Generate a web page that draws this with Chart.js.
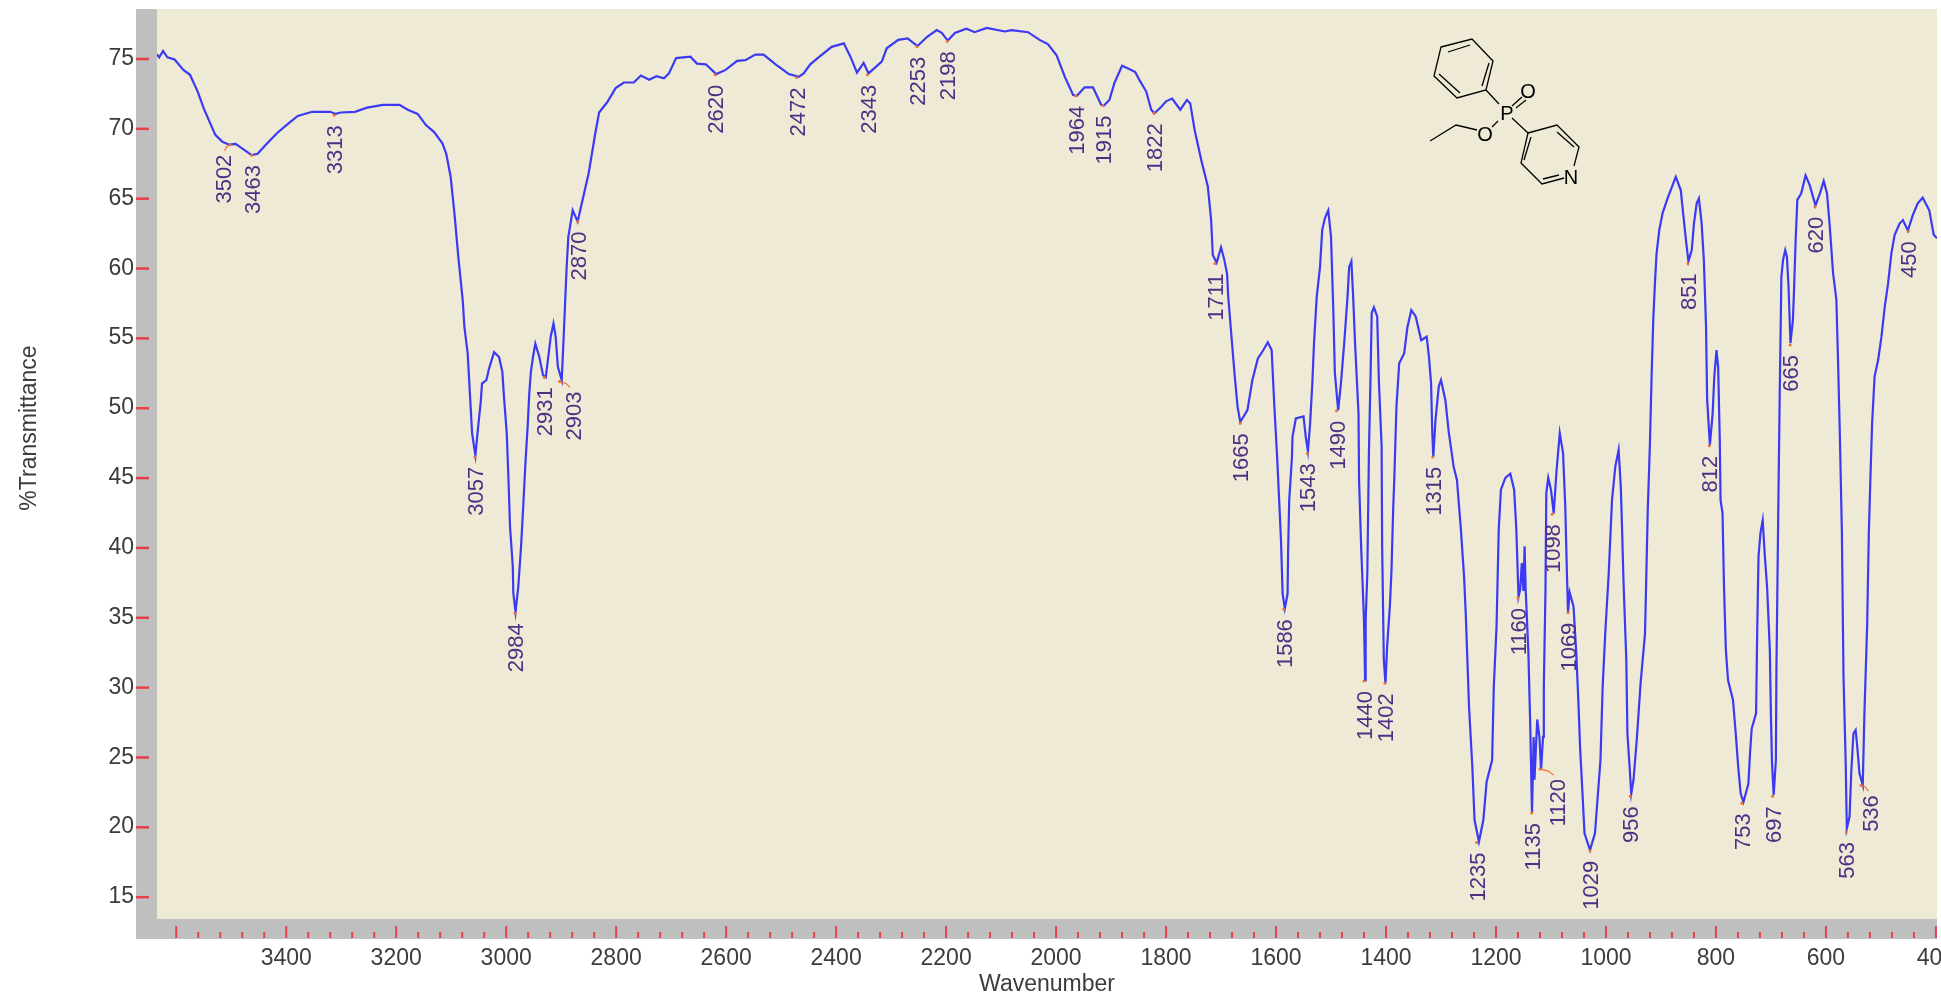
<!DOCTYPE html>
<html>
<head>
<meta charset="utf-8">
<title>IR spectrum</title>
<style>
    html, body { margin: 0; padding: 0; background: #fff; overflow: hidden; }
    #wrap { position: relative; width: 1941px; height: 998px; }
    #wrap canvas { position: absolute; left: 0; top: 0; }
    #molecule { position: absolute; left: 0; top: 0; pointer-events: none; }
    #molecule text { font-family: "Liberation Sans", Arial, sans-serif; font-size: 20px; fill: #000; text-anchor: middle; }
</style>
<script src="https://cdn.jsdelivr.net/npm/chart.js@4"></script>
</head>
<body>
<div id="wrap">
    <canvas id="irChart" width="1941" height="998"></canvas>
    <svg id="molecule" width="1941" height="998" fill="none" stroke="#000" stroke-width="1.3">
        <!-- phenyl -->
        <polygon points="1441,47 1472,39 1493,61 1486,90 1457,98 1434,76"/>
        <path d="M1448 52 L1470 45 M1489 63 L1482 86 M1460 93 L1439 74"/>
        <!-- P substituents -->
        <path d="M1486 90 L1499 104 M1512 106 L1522 97 M1516 108 L1526 100 M1498 121 L1492 127"/>
        <path d="M1477 130 L1456 125 L1430 141 M1512 118 L1528 133"/>
        <!-- pyridine -->
        <path d="M1528 133 L1557 125 L1579 147 L1574 166 M1564 178 L1542 184 L1521 163 L1528 133"/>
        <path d="M1557 132 L1574 147 M1559 175 L1543 179 M1531 137 L1524 160"/>
        <text x="1507" y="120" stroke="none">P</text>
        <text x="1528" y="98" stroke="none">O</text>
        <text x="1485" y="141" stroke="none">O</text>
        <text x="1571" y="184" stroke="none">N</text>
    </svg>
</div>
<script>
// Spectrum trace
const wavenumbers = [
    3635, 3631, 3624, 3616, 3603, 3587, 3575, 3561, 3550, 3529, 3516, 3504, 3492, 3463, 3452, 3438, 3416, 3398, 3379, 3353,
    3320, 3310, 3301, 3275, 3253, 3224, 3194, 3179, 3161, 3146, 3131, 3116, 3109, 3101, 3094, 3087, 3079, 3076, 3070, 3066,
    3062, 3056, 3051, 3046, 3044, 3036, 3031, 3022, 3013, 3007, 3004, 2999, 2996, 2993, 2988, 2987, 2983, 2978, 2973, 2969,
    2965, 2961, 2958, 2955, 2951, 2947, 2940, 2933, 2928, 2923, 2919, 2914, 2910, 2906, 2899, 2896, 2893, 2890, 2887, 2879,
    2874, 2870, 2861, 2850, 2838, 2831, 2816, 2801, 2786, 2768, 2755, 2740, 2727, 2713, 2704, 2691, 2665, 2653, 2637, 2618,
    2601, 2580, 2565, 2547, 2532, 2510, 2486, 2468, 2459, 2447, 2432, 2408, 2386, 2374, 2362, 2350, 2341, 2317, 2308, 2287,
    2270, 2252, 2235, 2217, 2208, 2197, 2184, 2163, 2148, 2126, 2093, 2081, 2051, 2030, 2015, 1999, 1984, 1969, 1962, 1948,
    1933, 1918, 1913, 1903, 1894, 1880, 1869, 1856, 1848, 1836, 1827, 1821, 1809, 1800, 1789, 1774, 1762, 1756, 1748, 1736,
    1724, 1718, 1715, 1708, 1700, 1694, 1689, 1687, 1681, 1675, 1670, 1665, 1652, 1643, 1633, 1623, 1615, 1608, 1603, 1598,
    1594, 1591, 1588, 1584, 1579, 1578, 1576, 1571, 1570, 1564, 1550, 1546, 1542, 1538, 1534, 1531, 1526, 1520, 1516, 1511,
    1505, 1500, 1496, 1493, 1487, 1482, 1476, 1470, 1467, 1463, 1460, 1456, 1450, 1449, 1445, 1440, 1438, 1437, 1434, 1431,
    1428, 1426, 1422, 1416, 1413, 1408, 1407, 1404, 1401, 1398, 1393, 1390, 1387, 1385, 1381, 1376, 1367, 1361, 1354, 1346,
    1336, 1326, 1322, 1318, 1316, 1314, 1310, 1304, 1300, 1292, 1286, 1277, 1271, 1264, 1258, 1255, 1249, 1243, 1239, 1231,
    1223, 1217, 1207, 1204, 1199, 1195, 1191, 1183, 1174, 1167, 1163, 1159, 1156, 1153, 1150, 1148, 1146, 1141, 1137.5, 1134.5,
    1131.5, 1130, 1125, 1121, 1118, 1114.5, 1113, 1110, 1108.5, 1105, 1100, 1095, 1090, 1084, 1078, 1074, 1071, 1069, 1066, 1059,
    1054, 1050, 1047, 1043, 1039, 1029, 1020, 1010, 1006, 1001, 995, 989, 983, 977, 973, 971, 968, 963, 961, 957,
    954, 950, 944, 937, 929, 926, 924, 920, 917, 914, 911, 908, 903, 897, 888, 873, 864, 859, 854.5, 850,
    844, 840, 835, 831, 826, 822, 818, 816, 811, 806, 803, 799, 796, 793, 791.6, 788, 785.5, 782, 778, 769,
    764, 759.5, 755, 750, 741, 738, 735, 727, 725, 722.6, 719, 715, 711, 707, 702, 700, 698, 695, 691, 690,
    687, 684, 681, 678, 674, 671, 668, 664.5, 660, 658, 655, 652, 645, 637, 629.5, 619, 611, 604, 598, 593,
    587, 581, 578, 575, 571, 568, 564, 562, 557, 554, 550, 546, 543, 539, 533, 530, 525, 522, 519, 516,
    511.5, 505, 499, 493, 487, 481, 475, 466, 460, 451, 442, 433, 424, 412, 404, 398
];
const transmittance = [
    75.3, 75.1, 75.55, 75.1, 74.95, 74.2, 73.85, 72.65, 71.45, 69.55, 69.05, 68.85, 68.9, 68.1, 68.2, 68.8, 69.7, 70.3, 70.9, 71.2,
    71.2, 71.05, 71.15, 71.2, 71.5, 71.7, 71.7, 71.35, 71.05, 70.25, 69.75, 68.95, 68.2, 66.55, 63.9, 60.8, 57.7, 55.8, 53.9, 51.05,
    48.2, 46.6, 48.65, 50.55, 51.75, 52, 52.85, 54, 53.65, 52.6, 50.8, 48.2, 45.1, 41.5, 38.65, 36.75, 35.4, 37.2, 40.05, 42.95,
    46.05, 48.65, 51.05, 52.6, 53.7, 54.6, 53.7, 52.35, 52.2, 53.8, 55.1, 56.05, 55.1, 52.95, 52, 54.6, 57.4, 60.1, 62.25, 64.15,
    63.7, 63.35, 64.9, 66.8, 69.65, 71.15, 71.9, 72.9, 73.3, 73.3, 73.8, 73.5, 73.75, 73.6, 73.95, 75.05, 75.15, 74.65, 74.6, 73.9,
    74.2, 74.85, 74.9, 75.3, 75.3, 74.6, 73.9, 73.7, 73.95, 74.6, 75.1, 75.85, 76.1, 75.15, 74, 74.7, 73.95, 74.8, 75.75, 76.35,
    76.45, 75.9, 76.55, 77.05, 76.85, 76.3, 76.85, 77.15, 76.9, 77.2, 76.95, 77.05, 76.9, 76.35, 76.05, 75.25, 73.7, 72.4, 72.35, 72.95,
    72.95, 71.7, 71.65, 72.05, 73.25, 74.5, 74.3, 74.05, 73.45, 72.65, 71.35, 71.1, 71.55, 71.95, 72.15, 71.35, 72.05, 71.8, 69.9, 67.75,
    65.85, 63.45, 60.95, 60.4, 61.5, 60.6, 59.6, 58, 55.1, 52.25, 50.1, 49, 49.85, 52, 53.55, 54.15, 54.7, 54.15, 50.1, 46.5,
    43.15, 40.55, 36.7, 35.65, 36.7, 39.8, 43.4, 46.5, 47.95, 49.25, 49.4, 47.95, 46.9, 48.9, 51.75, 54.6, 57.95, 60.1, 62.75, 63.6,
    64.15, 62.25, 57.25, 52.5, 49.85, 51.75, 54.65, 57.95, 60.1, 60.5, 58.2, 54.4, 49.6, 44.85, 39.85, 34.8, 30.5, 34.8, 38.15, 46.95,
    52.5, 56.8, 57.2, 56.55, 52, 47.25, 40.05, 32, 30.3, 32.9, 35.8, 38.4, 42.7, 44.85, 50.1, 53.2, 53.9, 55.8, 57, 56.55,
    54.85, 55.1, 53.7, 51.75, 48.4, 46.5, 49.15, 51.55, 52, 50.55, 48.3, 45.8, 44.85, 41.4, 37.9, 35.3, 28.6, 24.3, 20.5, 18.95,
    20.5, 23.25, 24.8, 30.05, 34.35, 41.3, 44.15, 45, 45.3, 44.15, 41.3, 36.5, 37, 38.9, 36.9, 40.1, 37, 32.4, 26.95, 21,
    26.45, 23.4, 27.7, 26.45, 24.1, 26.45, 30.05, 36.95, 43.9, 45, 44.15, 42.45, 45.45, 48.2, 46.75, 42.95, 38.15, 35.4, 36.8, 35.8,
    32.45, 28.85, 25.65, 22.65, 19.55, 18.35, 19.55, 24.8, 30.05, 34.1, 38.15, 43.4, 45.8, 47, 44.35, 41.75, 37.45, 31.95, 26.7, 24.3,
    22.4, 23.35, 26.25, 30.3, 33.85, 39.1, 42.7, 47.5, 52.25, 56.3, 58.9, 61.05, 62.75, 63.95, 65, 66.55, 65.6, 63.7, 62, 60.5,
    61.3, 63.2, 64.65, 65, 63.2, 60.6, 55.8, 50.6, 47.35, 49.6, 52.25, 54.15, 52.95, 47.7, 43.4, 42.45, 37.45, 32.7, 30.5, 29.1,
    26.7, 24.3, 22.4, 21.8, 23.1, 25.3, 27.05, 28.15, 33.9, 39.35, 41.05, 41.95, 39.35, 37.2, 32.7, 27.9, 24.55, 22.3, 24.8, 31.25,
    41.5, 51.05, 59.4, 60.6, 61.3, 60.85, 58.7, 54.65, 56.3, 58.45, 62.05, 64.9, 65.35, 66.65, 65.95, 64.5, 65.35, 66.25, 65.35, 63,
    59.65, 57.75, 53.45, 48.65, 41.2, 30.75, 24.55, 19.9, 20.75, 23.85, 26.7, 26.95, 25.75, 23.85, 23, 28.15, 34.45, 41, 45.1, 48.9,
    52.25, 53.45, 55.1, 57.25, 58.9, 61.05, 62.4, 63.2, 63.45, 62.7, 63.8, 64.65, 65.05, 64.15, 62.4, 62.15
];

// Picked peaks
const peakWaves = [
    3502, 3463, 3313, 3057, 2984, 2931, 2903, 2870, 2620, 2472, 2343, 2253, 2198, 1964, 1915, 1822, 1711, 1665, 1586, 1543, 1490,
    1440, 1402, 1315, 1235, 1160, 1135, 1120, 1098, 1069, 1029, 956, 851, 812, 753, 697, 665, 620, 563, 536, 450
];
const peakValues = [
    68.85, 68.1, 70.95, 46.5, 35.3, 52.2, 51.9, 63.35, 73.85, 73.65, 73.85, 75.85, 76.25, 72.35, 71.65, 71.1, 60.35, 48.9, 35.6, 46.75, 49.8,
    30.45, 30.3, 46.5, 18.9, 36.4, 21, 24.15, 42.4, 35.35, 18.3, 22.2, 60.35, 47.3, 21.7, 22.2, 54.5, 64.4, 19.65, 23, 62.65
];

// Tick labels
const xTickLabels = [3400, 3200, 3000, 2800, 2600, 2400, 2200, 2000, 1800, 1600, 1400, 1200, 1000, 800, 600, 400];
const yTickLabels = [15, 20, 25, 30, 35, 40, 45, 50, 55, 60, 65, 70, 75];
const xTitle = "Wavenumber";
const yTitle = "%Transmittance";

// Peaks whose label sits off to one side, with a small leader line
const leaderShift = { 3502: -7, 2903: 13, 1120: 17, 536: 9 };

const FRAME_GREY = "#bfbfbf";
const TICK_RED = "#e8404a";
const AXIS_TEXT = "#3c3c3c";
const PEAK_TEXT = "#4f2f86";
const PEAK_ORANGE = "#f07030";
const FONT = '"Liberation Sans", Arial, sans-serif';

// Grey frame + red tick marks + plot background
const framePlugin = {
    id: "frame",
    beforeDraw(chart) {
        const { ctx, chartArea: a, scales } = chart;
        const outerLeft = a.left - 21;
        const outerBottom = a.bottom + 20;

        ctx.save();
        ctx.fillStyle = "#ffffff";
        ctx.fillRect(0, 0, chart.width, chart.height);
        ctx.fillStyle = FRAME_GREY;
        ctx.fillRect(outerLeft, a.top, a.right - outerLeft, outerBottom - a.top);
        ctx.fillStyle = "#efead5";
        ctx.fillRect(a.left, a.top, a.right - a.left, a.bottom - a.top);

        ctx.fillStyle = TICK_RED;
        yTickLabels.forEach((v) => {
            ctx.fillRect(outerLeft, scales.y.getPixelForValue(v) - 1, 13, 2.5);
        });
        for (let w = 3600; w >= 400; w -= 40) {
            const len = w % 200 === 0 ? 12 : 6;
            ctx.fillRect(scales.x.getPixelForValue(w) - 1, outerBottom - 1 - len, 2, len);
        }
        ctx.restore();
    },
};

// Rotated peak numbers and the y axis title
const peakTextPlugin = {
    id: "peakText",
    afterDatasetsDraw(chart) {
        const { ctx, scales, chartArea: a } = chart;
        ctx.save();
        ctx.font = "22px " + FONT;
        ctx.textBaseline = "middle";
        ctx.textAlign = "right";

        peakWaves.forEach((w, i) => {
            const x = scales.x.getPixelForValue(w);
            const y = scales.y.getPixelForValue(peakValues[i]);
            const shift = leaderShift[w] || 0;

            if (shift) {
                ctx.strokeStyle = PEAK_ORANGE;
                ctx.lineWidth = 1.2;
                ctx.beginPath();
                ctx.moveTo(x, y);
                ctx.lineTo(x + shift * 0.5, y + 2);
                ctx.lineTo(x + shift * 0.8, y + 6);
                ctx.stroke();
            }

            // digits sit a little above the em middle, so nudge to centre them on the peak
            ctx.save();
            ctx.translate(x + shift + 2, y + 10);
            ctx.rotate(-Math.PI / 2);
            ctx.fillStyle = PEAK_TEXT;
            ctx.fillText(String(w), 0, 0);
            ctx.restore();
        });

        // y title sits above the centre of the axis, so chart.js title can't place it
        ctx.font = "23px " + FONT;
        ctx.textAlign = "center";
        ctx.fillStyle = AXIS_TEXT;
        ctx.translate(30, a.top + 419);
        ctx.rotate(-Math.PI / 2);
        ctx.fillText(yTitle, 0, 0);
        ctx.restore();
    },
};

new Chart(document.getElementById("irChart"), {
    type: "line",
    data: {
        datasets: [
            {
                label: "Peaks",
                data: peakWaves.map((w, i) => ({ x: w, y: peakValues[i] })),
                showLine: false,
                pointRadius: 1.5,
                pointBackgroundColor: PEAK_ORANGE,
                pointBorderWidth: 0,
                order: 1,
            },
            {
                label: "Spectrum",
                data: wavenumbers.map((w, i) => ({ x: w, y: transmittance[i] })),
                borderColor: "#3a3af2",
                borderWidth: 2.2,
                pointRadius: 0,
                tension: 0,
                order: 2,
            },
        ],
    },
    options: {
        responsive: false,
        animation: false,
        layout: { padding: { top: 9, left: 0, right: 0, bottom: 0 } },
        plugins: { legend: { display: false }, tooltip: { enabled: false } },
        scales: {
            x: {
                type: "linear",
                reverse: true,
                bounds: "data",
                min: 398,
                max: 3635,
                afterBuildTicks: (scale) => {
                    scale.ticks = xTickLabels.map((value) => ({ value }));
                },
                // keep the plot rectangle fixed, tick labels may run past the edge
                afterFit: (scale) => {
                    scale.height = 79;
                    scale.paddingLeft = 0;
                    scale.paddingRight = 0;
                },
                grid: { display: false, drawTicks: false },
                border: { display: false },
                ticks: {
                    autoSkip: false,
                    maxRotation: 0,
                    padding: 26,
                    color: AXIS_TEXT,
                    font: { family: FONT, size: 23 },
                    callback: (v) => String(v),
                },
                title: {
                    display: true,
                    text: xTitle,
                    color: AXIS_TEXT,
                    font: { family: FONT, size: 23 },
                    padding: { top: 0, bottom: 0 },
                },
            },
            y: {
                bounds: "data",
                min: 13.42,
                max: 78.56,
                afterBuildTicks: (scale) => {
                    scale.ticks = yTickLabels.map((value) => ({ value }));
                },
                afterFit: (scale) => {
                    scale.width = 157;
                    scale.paddingTop = 0;
                    scale.paddingBottom = 0;
                },
                grid: { display: false, drawTicks: false },
                border: { display: false },
                ticks: {
                    autoSkip: false,
                    padding: 23,
                    color: AXIS_TEXT,
                    font: { family: FONT, size: 23 },
                    callback: (v) => String(v),
                },
            },
        },
    },
    plugins: [framePlugin, peakTextPlugin],
});
</script>
</body>
</html>
